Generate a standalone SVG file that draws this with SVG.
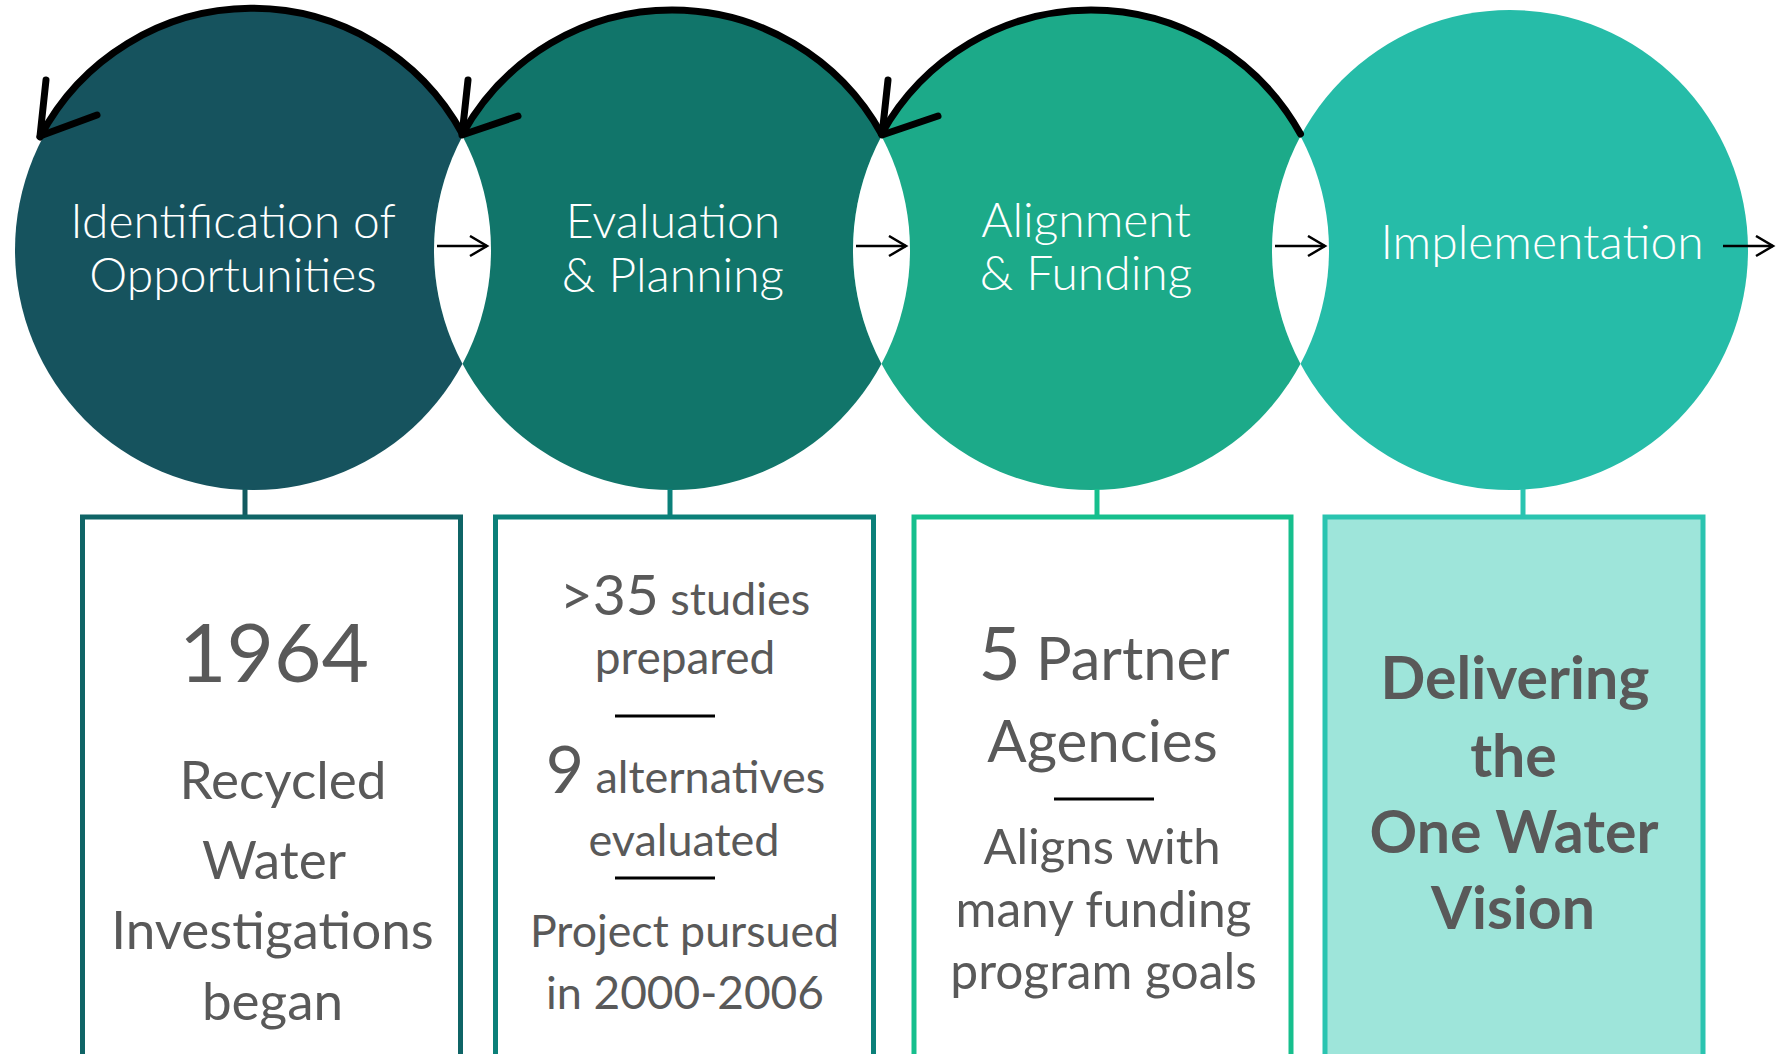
<svg xmlns="http://www.w3.org/2000/svg" width="1783" height="1054" viewBox="0 0 1783 1054">
<style>
.ctext{font-family:Lato,"Open Sans",sans-serif;font-weight:300;fill:#ffffff;text-anchor:middle;font-size:48px}
.btext{font-family:Lato,"Open Sans",sans-serif;fill:#595959;text-anchor:middle}
.bold{font-weight:700}
.arc{fill:none;stroke:#000;stroke-width:7;stroke-linecap:round;stroke-linejoin:round}
.lensarrow{fill:none;stroke:#000;stroke-width:2.5}
.divider{stroke:#000;stroke-width:3}
</style>
<defs>
<marker id="head" markerUnits="userSpaceOnUse" markerWidth="22" markerHeight="26" refX="18" refY="11" orient="auto">
<path d="M1,1 L18,11 L1,21" fill="none" stroke="#000" stroke-width="2.5"/>
</marker>
<clipPath id="clip2"><ellipse cx="672" cy="250" rx="238" ry="240"/></clipPath>
<clipPath id="clip3"><ellipse cx="1091" cy="250" rx="238" ry="240"/></clipPath>
<clipPath id="clip4"><ellipse cx="1510" cy="250" rx="238" ry="240"/></clipPath>
</defs>

<g id="stage1">
<ellipse cx="253" cy="250" rx="238" ry="240" fill="#16535e"/>
</g>
<g id="stage2">
<ellipse cx="672" cy="250" rx="238" ry="240" fill="#11756a"/>
</g>
<g id="stage3">
<ellipse cx="1091" cy="250" rx="238" ry="240" fill="#1caa89"/>
</g>
<g id="stage4">
<ellipse cx="1510" cy="250" rx="238" ry="240" fill="#26bca8"/>
</g>
<g id="lenses">
<ellipse cx="253" cy="250" rx="238" ry="240" fill="#ffffff" clip-path="url(#clip2)"/>
<ellipse cx="672" cy="250" rx="238" ry="240" fill="#ffffff" clip-path="url(#clip3)"/>
<ellipse cx="1091" cy="250" rx="238" ry="240" fill="#ffffff" clip-path="url(#clip4)"/>
</g>

<g id="stage-labels">
<text class="ctext" x="233" y="238">Identification of</text>
<text class="ctext" x="233" y="292">Opportunities</text>
<text class="ctext" x="673" y="238" font-size="49">Evaluation</text>
<text class="ctext" x="673" y="292">&amp; Planning</text>
<text class="ctext" x="1086" y="237" font-size="50">Alignment</text>
<text class="ctext" x="1086" y="290" font-size="48.5">&amp; Funding</text>
<text class="ctext" x="1542" y="259" font-size="50">Implementation</text>
</g>

<g id="connectors">
<path class="arc" d="M462.5,134 A240 242 0 0 0 40,137"/>
<path class="arc" d="M46,80 L40,136 L97,115"/>
<path class="arc" d="M881.5,134 A240 242 0 0 0 462.5,134"/>
<path class="arc" d="M468,80 L462,135 L518,116"/>
<path class="arc" d="M1300.5,134 A240 242 0 0 0 881.5,134"/>
<path class="arc" d="M888,80 L882,135 L938,116"/>
<line class="lensarrow" x1="437" y1="246" x2="487" y2="246" marker-end="url(#head)"/>
<line class="lensarrow" x1="856" y1="246" x2="906" y2="246" marker-end="url(#head)"/>
<line class="lensarrow" x1="1275" y1="246" x2="1325" y2="246" marker-end="url(#head)"/>
<line class="lensarrow" x1="1723" y1="246" x2="1773" y2="246" marker-end="url(#head)"/>
<line x1="245" y1="489" x2="245" y2="552" stroke="#125a60" stroke-width="5"/>
<ellipse cx="245" cy="552" rx="8" ry="6" fill="#125a60"/>
<line x1="670" y1="489" x2="670" y2="552" stroke="#0b8079" stroke-width="5"/>
<ellipse cx="670" cy="552" rx="8" ry="6" fill="#0b8079"/>
<line x1="1097" y1="489" x2="1097" y2="552" stroke="#16bf8d" stroke-width="5"/>
<ellipse cx="1097" cy="552" rx="8" ry="6" fill="#16bf8d"/>
<line x1="1523" y1="489" x2="1523" y2="552" stroke="#2ac4b0" stroke-width="5"/>
<ellipse cx="1523" cy="552" rx="8" ry="6" fill="#2ac4b0"/>
</g>

<g id="box1">
<rect x="82.5" y="517" width="378" height="560" fill="#ffffff" stroke="#0f6466" stroke-width="5"/>
<text class="btext" x="274" y="682" font-size="82">1964</text>
<text class="btext" x="283" y="799" font-size="53">Recycled</text>
<text class="btext" x="274" y="879" font-size="53">Water</text>
<text class="btext" x="272.5" y="949" font-size="53">Investigations</text>
<text class="btext" x="272.5" y="1020" font-size="53">began</text>
</g>

<g id="box2">
<rect x="495.5" y="517" width="378" height="560" fill="#ffffff" stroke="#0b8079" stroke-width="5"/>
<text class="btext" x="685" y="615"><tspan font-size="57">&gt;35</tspan><tspan font-size="45"> studies</tspan></text>
<text class="btext" x="685" y="674" font-size="46">prepared</text>
<line class="divider" x1="615" y1="716" x2="715" y2="716"/>
<text class="btext" x="685.5" y="793"><tspan font-size="66">9</tspan><tspan font-size="45"> alternatives</tspan></text>
<text class="btext" x="684" y="856" font-size="45">evaluated</text>
<line class="divider" x1="615" y1="878" x2="715" y2="878"/>
<text class="btext" x="684.5" y="947" font-size="44.7">Project pursued</text>
<text class="btext" x="685" y="1009"><tspan font-size="45">in </tspan><tspan font-size="46">2000-2006</tspan></text>
</g>

<g id="box3">
<rect x="914" y="517" width="377" height="560" fill="#ffffff" stroke="#16bf8d" stroke-width="5"/>
<text class="btext" x="1104" y="680"><tspan font-size="73">5</tspan><tspan font-size="59.5"> Partner</tspan></text>
<text class="btext" x="1102.5" y="762" font-size="58.3">Agencies</text>
<line class="divider" x1="1054" y1="799" x2="1154" y2="799"/>
<text class="btext" x="1102" y="864" font-size="49">Aligns with</text>
<text class="btext" x="1103.5" y="927" font-size="49.7">many funding</text>
<text class="btext" x="1103.5" y="989" font-size="49.7">program goals</text>
</g>

<g id="box4">
<rect x="1325" y="517" width="378" height="560" fill="#9ee5da" stroke="#2ac4b0" stroke-width="5"/>
<text class="btext bold" x="1515" y="699" font-size="59">Delivering</text>
<text class="btext bold" x="1513.5" y="777" font-size="59">the</text>
<text class="btext bold" x="1514" y="853" font-size="59">One Water</text>
<text class="btext bold" x="1513" y="929" font-size="59">Vision</text>
</g>
</svg>
